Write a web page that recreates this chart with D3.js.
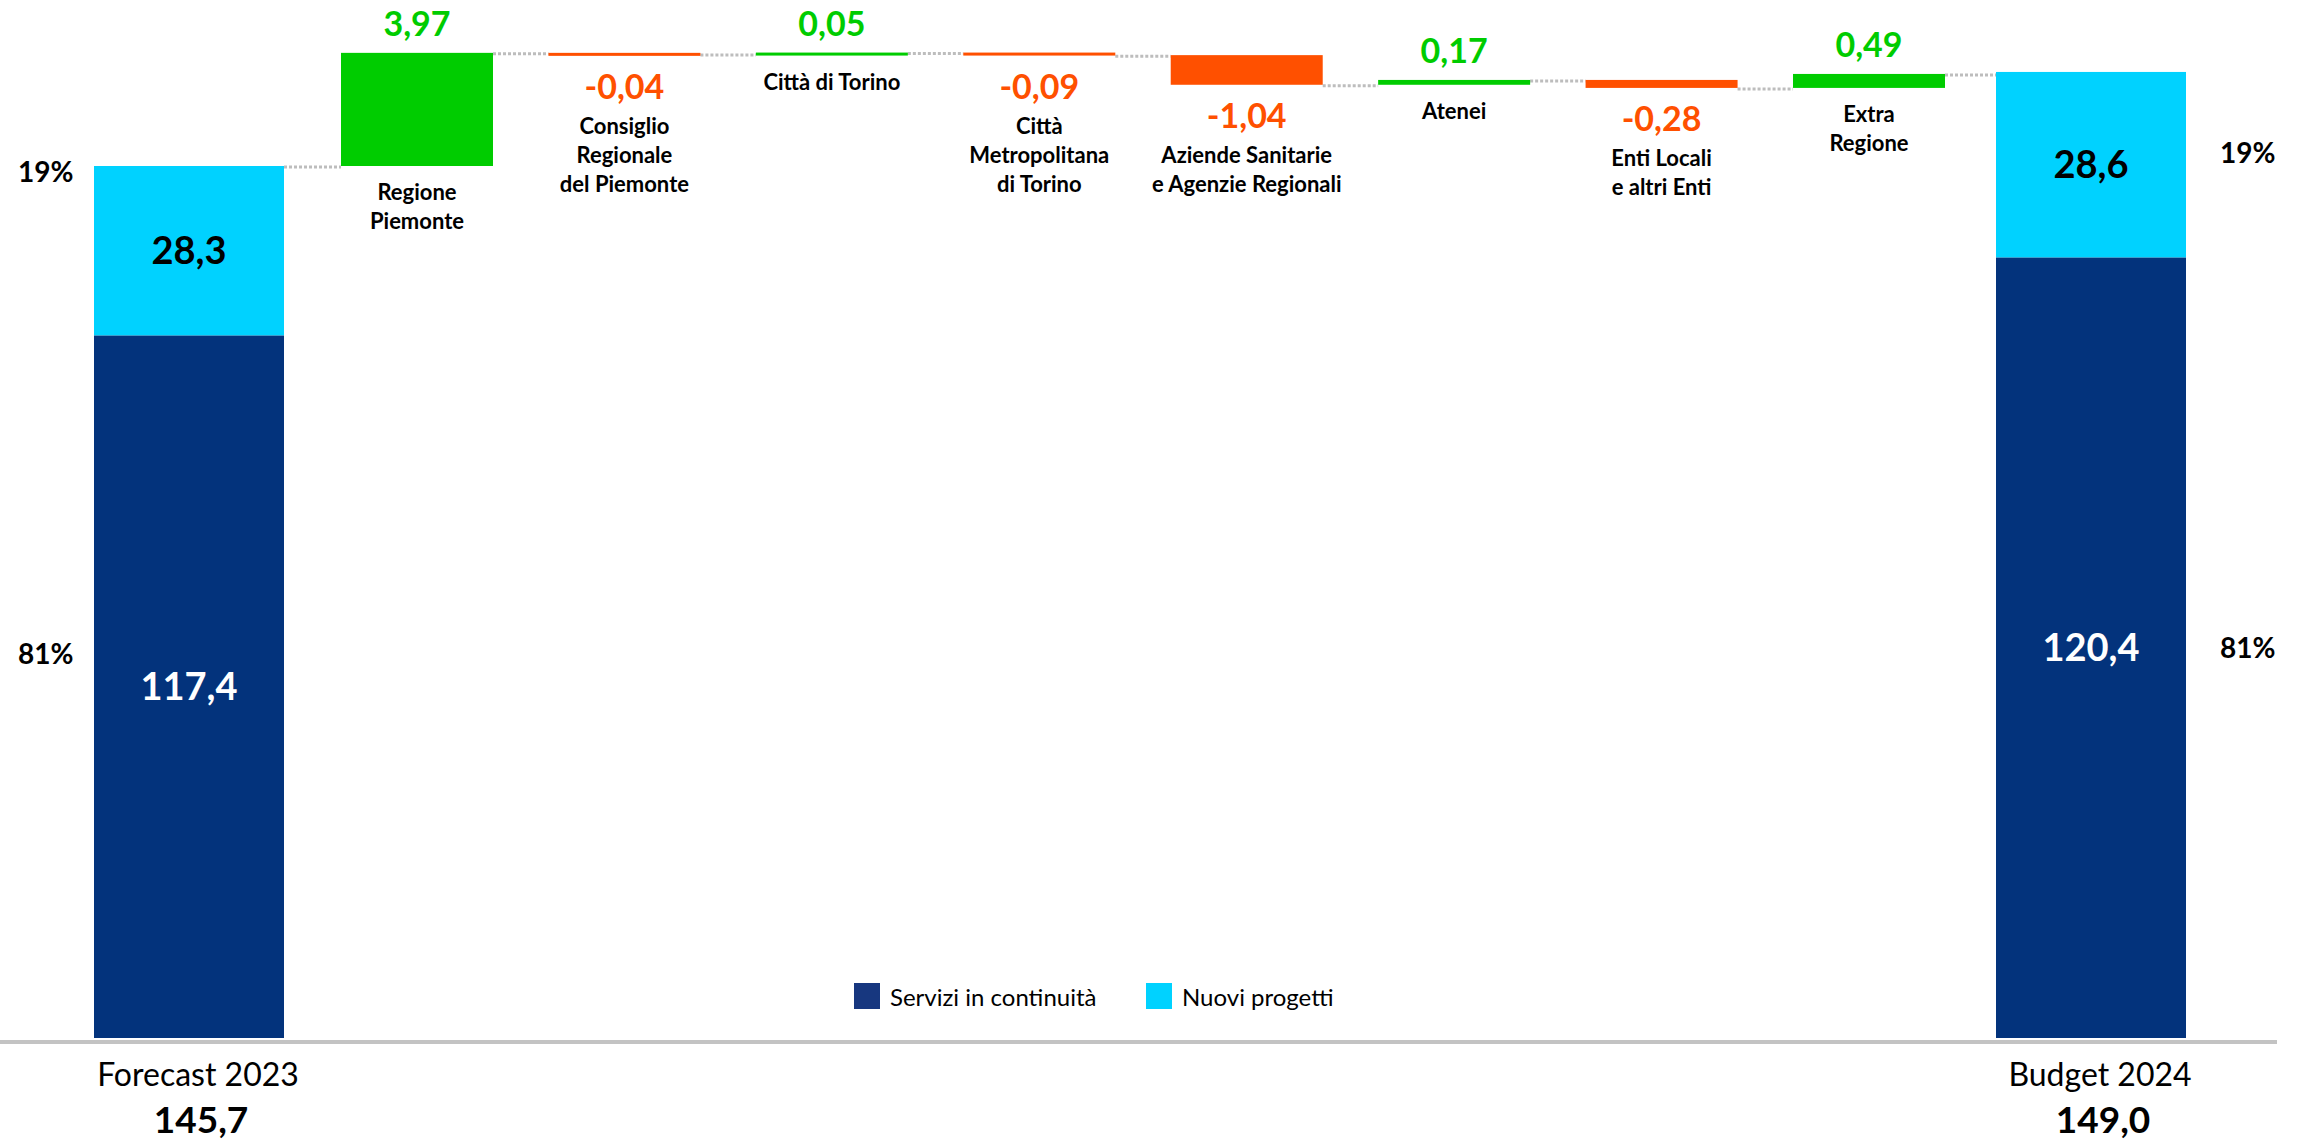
<!DOCTYPE html>
<html>
<head>
<meta charset="utf-8">
<script src="https://cdn.jsdelivr.net/npm/d3@7"></script>
<style>
body { margin: 0; background: #fff; }
svg text { font-family: Lato, "Liberation Sans", sans-serif; }
</style>
</head>
<body>
<div id="chart"></div>
<script>
// data
var totalNames = ["Forecast 2023", "Budget 2024"];
var serviziValues = [117.4, 120.4];
var nuoviValues = [28.3, 28.6];
var totalValues = [145.7, 149.0];
var deltaNames = [
  ["Regione", "Piemonte"],
  ["Consiglio", "Regionale", "del Piemonte"],
  ["Città di Torino"],
  ["Città", "Metropolitana", "di Torino"],
  ["Aziende Sanitarie", "e Agenzie Regionali"],
  ["Atenei"],
  ["Enti Locali", "e altri Enti"],
  ["Extra", "Regione"]
];
var deltaValues = [3.97, -0.04, 0.05, -0.09, -1.04, 0.17, -0.28, 0.49];
var seriesNames = ["Servizi in continuità", "Nuovi progetti"];

// SVG properties
var chart_width = 2305;
var chart_height = 1145;
var baseline_y = 1038;
var first_top_y = 166;
var delta_px = 28.5;      // pixels per unit above the forecast level
var total_bar_w = 190;
var delta_bar_w = 152;
var col_servizi = "#03337c";
var col_nuovi = "#00d2ff";
var col_up = "#00cc00";
var col_down = "#ff5000";

var it = d3.formatLocale({decimal: ",", thousands: ".", grouping: [3], currency: ["€", ""], minus: "-"});
var fmt1 = it.format(".1f");
var fmt2 = it.format(".2f");
var fmtPct = it.format(".0%");

// running level of the waterfall
var levels = [totalValues[0]];
deltaValues.forEach(function(d){ levels.push(levels[levels.length - 1] + d); });

var svg = d3.select("#chart")
            .append("svg")
            .attr("width", chart_width)
            .attr("height", chart_height);

// scales: the part above the forecast total is stretched
var y = d3.scaleLinear()
          .domain([0, totalValues[0], totalValues[0] + 5])
          .range([baseline_y, first_top_y, first_top_y - 5 * delta_px]);

var n = deltaValues.length;
var x = d3.scaleLinear()
          .domain([0, 1, n, n + 1])
          .range([189, 417, 1869, 2091]);

// base line
svg.append("line")
   .attr("x1", 0).attr("x2", 2277)
   .attr("y1", 1042).attr("y2", 1042)
   .attr("stroke", "#c3c3c3")
   .attr("stroke-width", 4);

// connectors
var tops = [{i: 0, lvl: levels[0]}];
deltaValues.forEach(function(d, i){ tops.push({i: i + 1, lvl: levels[i + 1]}); });
svg.selectAll("line.conn")
   .data(tops)
   .enter()
   .append("line")
   .attr("class", "conn")
   .attr("x1", function(d){ return x(d.i) + (d.i == 0 ? total_bar_w : delta_bar_w) / 2; })
   .attr("x2", function(d){ return x(d.i + 1) - (d.i + 1 == n + 1 ? total_bar_w : delta_bar_w) / 2; })
   .attr("y1", function(d){ return y(d.lvl) + 1; })
   .attr("y2", function(d){ return y(d.lvl) + 1; })
   .attr("stroke", "#bdbdbd")
   .attr("stroke-width", 3)
   .attr("stroke-dasharray", "3,2");

// total bars (stacked)
var totals = totalValues.map(function(t, k){
  var top = y(t);
  var s = d3.scaleLinear().domain([0, t]).range([baseline_y, top]);
  return {k: k, cx: x(k == 0 ? 0 : n + 1), top: top, mid: s(serviziValues[k]), s: s};
});

totals.forEach(function(d){
  var g = svg.append("g");
  g.append("rect")
   .attr("x", d.cx - total_bar_w / 2)
   .attr("y", d.mid)
   .attr("width", total_bar_w)
   .attr("height", baseline_y - d.mid)
   .attr("fill", col_servizi);
  g.append("rect")
   .attr("x", d.cx - total_bar_w / 2)
   .attr("y", d.top)
   .attr("width", total_bar_w)
   .attr("height", d.mid - d.top)
   .attr("fill", col_nuovi);
  g.append("text")
   .text(fmt1(nuoviValues[d.k]))
   .attr("x", d.cx)
   .attr("y", (d.top + d.mid) / 2 + 13)
   .attr("font-size", 38).attr("font-weight", "bold")
   .attr("text-anchor", "middle").attr("fill", "#000");
  g.append("text")
   .text(fmt1(serviziValues[d.k]))
   .attr("x", d.cx)
   .attr("y", (d.mid + baseline_y) / 2 + 13)
   .attr("font-size", 38).attr("font-weight", "bold")
   .attr("text-anchor", "middle").attr("fill", "#fff");
  // shares
  var px = d.k == 0 ? 18 : 2220;
  g.append("text")
   .text(fmtPct(nuoviValues[d.k] / totalValues[d.k]))
   .attr("x", px)
   .attr("y", d.k == 0 ? d.top + 16 : (d.top + d.mid) / 2 - 2)
   .attr("font-size", 28).attr("font-weight", "bold").attr("fill", "#000");
  g.append("text")
   .text(fmtPct(serviziValues[d.k] / totalValues[d.k]))
   .attr("x", px)
   .attr("y", d.k == 0 ? (d.mid + baseline_y) / 2 - 23 : (d.mid + baseline_y) / 2 + 10)
   .attr("font-size", 28).attr("font-weight", "bold").attr("fill", "#000");
  // names under the axis
  g.append("text")
   .text(totalNames[d.k])
   .attr("x", d.cx + 9)
   .attr("y", 1086)
   .attr("font-size", 32)
   .attr("text-anchor", "middle").attr("fill", "#000");
  g.append("text")
   .text(fmt1(totalValues[d.k]))
   .attr("x", d.cx + 12)
   .attr("y", 1133)
   .attr("font-size", 37).attr("font-weight", "bold")
   .attr("text-anchor", "middle").attr("fill", "#000");
});

// delta bars
var deltas = deltaValues.map(function(v, i){
  var y0 = y(levels[i]), y1 = y(levels[i + 1]);
  var top = Math.min(y0, y1);
  var h = Math.max(3, Math.abs(y1 - y0));
  return {v: v, i: i, cx: x(i + 1), top: top, bottom: top + h, h: h};
});

svg.selectAll("rect.delta")
   .data(deltas)
   .enter()
   .append("rect")
   .attr("class", "delta")
   .attr("x", function(d){ return d.cx - delta_bar_w / 2; })
   .attr("y", function(d){ return d.top; })
   .attr("width", delta_bar_w)
   .attr("height", function(d){ return d.h; })
   .attr("fill", function(d){ return d.v >= 0 ? col_up : col_down; });

svg.selectAll("text.dval")
   .data(deltas)
   .enter()
   .append("text")
   .attr("class", "dval")
   .text(function(d){ return fmt2(d.v); })
   .attr("x", function(d){ return d.cx; })
   .attr("y", function(d){ return d.v >= 0 ? d.top - 17 : d.bottom + 43; })
   .attr("font-size", 34).attr("font-weight", "bold")
   .attr("text-anchor", "middle")
   .attr("fill", function(d){ return d.v >= 0 ? col_up : col_down; });

deltas.forEach(function(d){
  var y_first = d.v >= 0 ? d.bottom + 34 : d.bottom + 78;
  svg.append("text")
     .attr("x", d.cx)
     .attr("y", y_first)
     .attr("font-size", 22).attr("font-weight", "bold")
     .attr("text-anchor", "middle").attr("fill", "#000")
     .selectAll("tspan")
     .data(deltaNames[d.i])
     .enter()
     .append("tspan")
     .attr("x", d.cx)
     .attr("dy", function(t, j){ return j == 0 ? 0 : 29; })
     .text(function(t){ return t; });
});

// legend
var legend = svg.selectAll("g.legend")
   .data(seriesNames)
   .enter()
   .append("g")
   .attr("class", "legend")
   .attr("transform", function(d, i){ return "translate(" + (854 + i * 292) + ",983)"; });
legend.append("rect")
   .attr("width", 26).attr("height", 26)
   .attr("fill", function(d, i){ return i == 0 ? "#17377f" : col_nuovi; });
legend.append("text")
   .text(function(d){ return d; })
   .attr("x", 36).attr("y", 23)
   .attr("font-size", 24).attr("fill", "#000");
</script>
</body>
</html>
